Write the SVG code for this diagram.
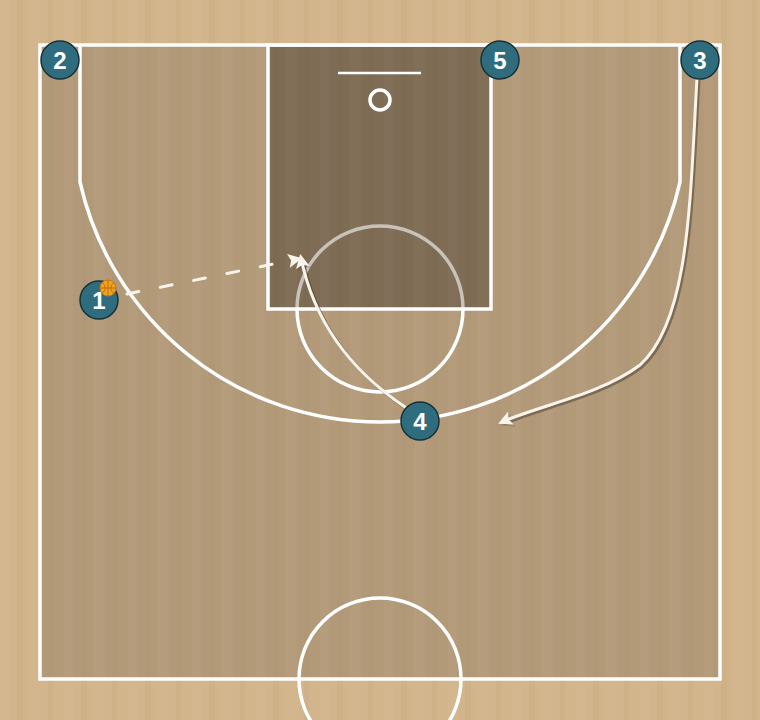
<svg xmlns="http://www.w3.org/2000/svg" width="760" height="720" viewBox="0 0 760 720">
<defs>
<pattern id="wood" width="64" height="720" patternUnits="userSpaceOnUse">
<rect x="0" y="0" width="9" height="720" fill="#fff" opacity="0.025"/>
<rect x="17" y="0" width="6" height="720" fill="#000" opacity="0.018"/>
<rect x="30" y="0" width="11" height="720" fill="#fff" opacity="0.02"/>
<rect x="48" y="0" width="5" height="720" fill="#000" opacity="0.02"/>
</pattern>
<marker id="ah" viewBox="0 0 10 10" refX="7" refY="5" markerWidth="15" markerHeight="14" orient="auto" markerUnits="userSpaceOnUse">
<path d="M0,0 L10,5 L0,10 L2,5 Z" fill="#f8f4ec"/>
</marker>
<marker id="ahs" viewBox="0 0 10 10" refX="7" refY="5" markerWidth="15" markerHeight="14" orient="auto" markerUnits="userSpaceOnUse">
<path d="M0,0 L10,5 L0,10 L2,5 Z" fill="#4a3c2c" opacity="0.4"/>
</marker>
</defs>
<style>
.line{fill:none;stroke:#ffffff;stroke-width:3.5}
.mv{fill:none;stroke:#f8f4ec;stroke-width:3;stroke-linecap:round}
.sh{fill:none;stroke:#4a3c2c;stroke-width:3;opacity:0.5}
.pl circle{fill:#2f6c7d;stroke:#163239;stroke-width:1.5}
.pl text{fill:#ffffff;font-family:"Liberation Sans",Arial,sans-serif;font-weight:bold;font-size:24px;text-anchor:middle}
</style>
<g id="court">
<rect x="0" y="0" width="760" height="720" fill="#d3b58c"/>
<rect x="40" y="45" width="680" height="634" fill="#b29a79"/>
<rect x="268" y="45" width="223" height="264" fill="#7f6c55"/>
<rect x="0" y="0" width="760" height="720" fill="url(#wood)"/>
<path d="M297 309 A83 83 0 0 1 463 309" fill="none" stroke="#c8c2ba" stroke-width="3.5"/>
<path d="M297 309 A83 83 0 0 0 463 309" class="line"/>
<rect x="268" y="45" width="223" height="264" class="line" stroke-width="2.5"/>
<rect x="40" y="45" width="680" height="634" class="line"/>
<path d="M80 45 L80 182 A307.5 307.5 0 0 0 680 182 L680 45" class="line"/>
<line x1="338" y1="73" x2="421" y2="73" stroke="#ffffff" stroke-width="2.5"/>
<circle cx="380" cy="100" r="10" fill="none" stroke="#ffffff" stroke-width="3.5"/>
<circle cx="380" cy="679" r="81" class="line"/>
</g>
<g id="connectors">
<path d="M699 80 C692 200,692 322,642 367 C602 397,542 407,504 424" class="sh" marker-end="url(#ahs)"/>
<path d="M697 78 C690 198,690 320,640 365 C600 395,540 405,502 422" class="mv" marker-end="url(#ah)"/>
<path d="M407 409 Q322 352 303 260" class="sh" marker-end="url(#ahs)"/>
<path d="M405 407 Q320 350 301 258" class="mv" marker-end="url(#ah)"/>
<path d="M127 294 L298 259" class="mv" stroke-width="3" stroke-dasharray="12 22" stroke-linecap="butt" marker-end="url(#ah)"/>
</g>
<g id="p2" class="pl"><circle cx="60" cy="60" r="19"/><text x="60" y="69">2</text></g>
<g id="p5" class="pl"><circle cx="500" cy="60" r="19"/><text x="500" y="69">5</text></g>
<g id="p3" class="pl"><circle cx="700" cy="60" r="19"/><text x="700" y="69">3</text></g>
<g id="p1" class="pl"><circle cx="99" cy="300" r="19"/><text x="99" y="309">1</text></g>
<g id="p4" class="pl"><circle cx="420" cy="421" r="19"/><text x="420" y="430">4</text></g>
<g id="ball">
<circle cx="108" cy="288" r="8" fill="#f2a225" stroke="#c8780c" stroke-width="1"/>
<path d="M100 288 H116 M108 280 V296 M102.5 282.5 Q108 288 102.5 293.5 M113.5 282.5 Q108 288 113.5 293.5" fill="none" stroke="#b86a08" stroke-width="0.9"/>
</g>
</svg>
